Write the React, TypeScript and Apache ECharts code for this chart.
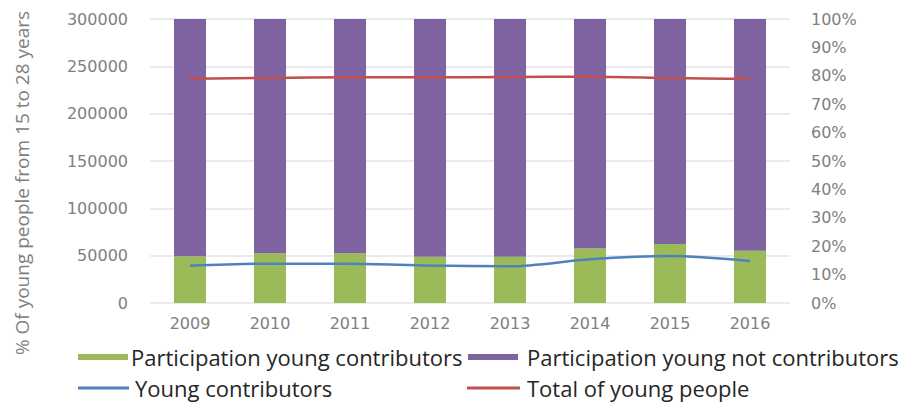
import React, { useEffect, useRef } from "react";
import * as echarts from "echarts";

const years = ["2009", "2010", "2011", "2012", "2013", "2014", "2015", "2016"];
const participationContributors = [16.5, 17.5, 17.5, 16.3, 16.3, 19.2, 20.8, 18.4];
const participationNotContributors = [83.5, 82.5, 82.5, 83.7, 83.7, 80.8, 79.2, 81.6];
const youngContributors = [39400, 41500, 41500, 39500, 38800, 46200, 49600, 44400];
const totalYoungPeople = [236900, 237700, 238400, 238400, 238700, 239000, 237700, 236600];

const GREEN = "#9BBB59";
const PURPLE = "#8064A2";
const BLUE = "#4F81BD";
const RED = "#C0504D";
const AXIS_GREY = "#808080";

const legendFont = { fontFamily: "'Open Sans', 'Noto Sans', sans-serif", fontSize: 22, color: "#262626", lineHeight: 24 };

export default function App() {
  const ref = useRef<HTMLDivElement>(null);
  useEffect(() => {
    if (!ref.current) return;
    const chart = echarts.init(ref.current, undefined, { renderer: "svg" });
    const tickFont = { fontFamily: "DejaVu Sans", fontSize: 16, color: AXIS_GREY };
    chart.setOption({
      animation: false,
      grid: { left: 150, right: 116, top: 19, bottom: 99, containLabel: false },
      xAxis: {
        type: "category",
        data: years,
        axisLine: { show: false },
        axisTick: { show: false },
        axisLabel: { ...tickFont, margin: 12 },
      },
      yAxis: [
        {
          type: "value",
          min: 0,
          max: 300000,
          interval: 50000,
          axisLine: { show: false },
          axisTick: { show: false },
          axisLabel: { ...tickFont, margin: 22, formatter: (v: number) => String(v) },
          splitLine: { lineStyle: { color: "#e3e3e3", width: 1.5 } },
        },
        {
          type: "value",
          min: 0,
          max: 100,
          interval: 10,
          position: "right",
          axisLine: { show: false },
          axisTick: { show: false },
          axisLabel: { ...tickFont, margin: 21, formatter: "{value}%" },
          splitLine: { show: false },
        },
      ],
      legend: [
        {
          left: 78, top: 345, padding: 0, itemWidth: 50, itemHeight: 6,
          icon: "rect", textStyle: { ...legendFont, padding: [0, 0, 0, -2] },
          data: ["Participation young contributors"],
          selectedMode: false,
        },
        {
          left: 468, top: 345, padding: 0, itemWidth: 50, itemHeight: 6,
          icon: "rect", textStyle: { ...legendFont, padding: [0, 0, 0, 4] },
          data: ["Participation young not contributors"],
          selectedMode: false,
        },
        {
          left: 78, top: 376, padding: 0, itemWidth: 51, itemHeight: 3,
          icon: "rect", textStyle: { ...legendFont, padding: [0, 0, 0, 1] },
          data: ["Young contributors"],
          selectedMode: false,
        },
        {
          left: 467, top: 376, padding: 0, itemWidth: 53, itemHeight: 3,
          icon: "rect", textStyle: { ...legendFont, padding: [0, 0, 0, 2] },
          data: ["Total of young people"],
          selectedMode: false,
        },
      ],
      graphic: [
        {
          type: "text",
          x: 22,
          y: 183,
          rotation: Math.PI / 2,
          style: {
            text: "% Of young people from 15 to 28 years",
            fontFamily: "'Open Sans', 'Noto Sans', sans-serif",
            fontSize: 19,
            fill: AXIS_GREY,
            align: "center",
            verticalAlign: "middle",
          },
        },
      ],
      series: [
        {
          name: "Participation young contributors",
          type: "bar",
          stack: "p",
          yAxisIndex: 1,
          barWidth: "40%",
          itemStyle: { color: GREEN },
          data: participationContributors,
        },
        {
          name: "Participation young not contributors",
          type: "bar",
          stack: "p",
          yAxisIndex: 1,
          barWidth: "40%",
          itemStyle: { color: PURPLE },
          data: participationNotContributors,
        },
        {
          name: "Young contributors",
          type: "line",
          yAxisIndex: 0,
          smooth: 0.3,
          showSymbol: false,
          lineStyle: { color: BLUE, width: 2.5 },
          itemStyle: { color: BLUE },
          data: youngContributors,
        },
        {
          name: "Total of young people",
          type: "line",
          yAxisIndex: 0,
          smooth: 0.3,
          showSymbol: false,
          lineStyle: { color: RED, width: 2.5 },
          itemStyle: { color: RED },
          data: totalYoungPeople,
        },
      ],
    });
    return () => chart.dispose();
  }, []);
  return <div ref={ref} style={{ width: 906, height: 402, position: "absolute", left: 0, top: 0 }} />;
}
